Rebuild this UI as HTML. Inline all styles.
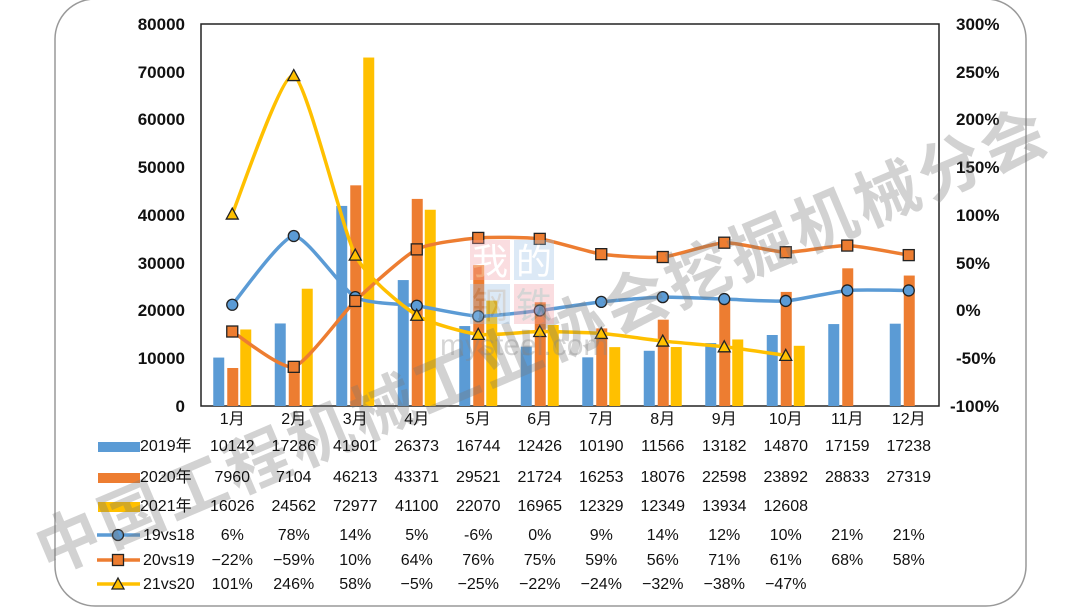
<!DOCTYPE html>
<html><head><meta charset="utf-8"><style>
body{margin:0;background:#fff;}
#w{position:relative;width:1080px;height:608px;overflow:hidden;background:#fff;}
.t{position:absolute;font-family:"Liberation Sans","Noto Sans CJK SC",sans-serif;font-size:16px;line-height:18px;height:18px;color:#111;white-space:nowrap;}
</style></head><body><div id="w">
<svg id="s" width="1080" height="608" style="position:absolute;left:0;top:0">
<rect x="55" y="-1" width="971" height="607" rx="40" fill="none" stroke="#999" stroke-width="1.5"/>
<rect x="201" y="24" width="738" height="382" fill="none" stroke="#222" stroke-width="1.5"/>
<g id="bars"></g><g id="lines"></g>
<g font-family="Liberation Sans, sans-serif" font-weight="bold" font-size="17" fill="#111">
<text x="185" y="30" text-anchor="end">80000</text>
<text x="185" y="78" text-anchor="end">70000</text>
<text x="185" y="125" text-anchor="end">60000</text>
<text x="185" y="173" text-anchor="end">50000</text>
<text x="185" y="221" text-anchor="end">40000</text>
<text x="185" y="269" text-anchor="end">30000</text>
<text x="185" y="316" text-anchor="end">20000</text>
<text x="185" y="364" text-anchor="end">10000</text>
<text x="185" y="412" text-anchor="end">0</text>
<text x="956" y="30">300%</text><text x="956" y="78">250%</text><text x="956" y="125">200%</text>
<text x="956" y="173">150%</text><text x="956" y="221">100%</text><text x="956" y="269">50%</text>
<text x="956" y="316">0%</text><text x="956" y="364">-50%</text><text x="950" y="412">-100%</text>
</g>
<g id="leg"></g>
<g opacity="0.32" fill="#777" font-family="Noto Sans CJK SC, sans-serif" font-weight="bold">
<text x="0" y="0" font-size="64" transform="translate(48,575) rotate(-23)" textLength="1090" lengthAdjust="spacing">中国工程机械工业协会挖掘机械分会</text>
</g>
<g opacity="0.35">
<rect x="470" y="240" width="40" height="40" fill="#f3a0a8"/><rect x="514" y="240" width="40" height="40" fill="#9ec3e6"/>
<rect x="470" y="284" width="40" height="40" fill="#9ec3e6"/><rect x="514" y="284" width="40" height="40" fill="#f3a0a8"/>
<text x="472" y="274" font-size="36" fill="#fff" font-family="Noto Sans CJK SC">我</text><text x="516" y="274" font-size="36" fill="#fff" font-family="Noto Sans CJK SC">的</text>
<text x="472" y="318" font-size="36" fill="#888" font-family="Noto Sans CJK SC">钢</text><text x="516" y="318" font-size="36" fill="#888" font-family="Noto Sans CJK SC">铁</text>
<text x="440" y="355" font-size="30" fill="#888" font-family="Liberation Sans">mysteel.com</text>
</g>
</svg>
<div class="t" style="left:140px;top:438px">2019年</div>
<div class="t" style="left:140px;top:469px">2020年</div>
<div class="t" style="left:140px;top:498px">2021年</div>
<div class="t" style="left:143px;top:527px">19vs18</div>
<div class="t" style="left:143px;top:552px">20vs19</div>
<div class="t" style="left:143px;top:576px">21vs20</div>
<div id="cols"></div>
</div>
<script>
const c=i=>232.25+61.5*i;
const d19=[10142,17286,41901,26373,16744,12426,10190,11566,13182,14870,17159,17238];
const d20=[7960,7104,46213,43371,29521,21724,16253,18076,22598,23892,28833,27319];
const d21=[16026,24562,72977,41100,22070,16965,12329,12349,13934,12608];
const p19=[6,78,14,5,-6,0,9,14,12,10,21,21];
const p20=[-22,-59,10,64,76,75,59,56,71,61,68,58];
const p21=[101,246,58,-5,-25,-22,-24,-32,-38,-47];
const B='#5b9bd5',O='#ed7d31',Y='#ffc000';
const Yv=v=>406-v*382/80000, Pv=v=>310.5-v*0.955;
let h='';
[[d19,B,-19],[d20,O,-5],[d21,Y,8]].forEach(([d,col,o])=>d.forEach((v,i)=>{const y=Yv(v);h+=`<rect x="${c(i)+o}" y="${y}" width="11" height="${406-y}" fill="${col}"/>`;}));
document.getElementById('bars').innerHTML=h;
function path(pts){let s=`M${pts[0][0]},${pts[0][1]}`;const t=0.1;for(let i=0;i<pts.length-1;i++){const p0=pts[i-1]||pts[i],p1=pts[i],p2=pts[i+1],p3=pts[i+2]||p2;s+=` C${p1[0]+(p2[0]-p0[0])*t},${p1[1]+(p2[1]-p0[1])*t} ${p2[0]-(p3[0]-p1[0])*t},${p2[1]-(p3[1]-p1[1])*t} ${p2[0]},${p2[1]}`;}return s;}
function mk(t,x,y,col){if(t=='o')return `<circle cx="${x}" cy="${y}" r="5.5" fill="${col}" stroke="#222" stroke-width="1.3"/>`;if(t=='s')return `<rect x="${x-5.5}" y="${y-5.5}" width="11" height="11" fill="${col}" stroke="#222" stroke-width="1.3"/>`;return `<polygon points="${x},${y-6} ${x+6},${y+5} ${x-6},${y+5}" fill="${col}" stroke="#222" stroke-width="1.3"/>`;}
let l='';
[[p19,B,'o'],[p20,O,'s'],[p21,Y,'t']].forEach(([d,col,t])=>{const pts=d.map((v,i)=>[c(i),Pv(v)]);l+=`<path d="${path(pts)}" fill="none" stroke="${col}" stroke-width="3.5"/>`;pts.forEach(p=>l+=mk(t,p[0],p[1],col));});
document.getElementById('lines').innerHTML=l;
let g='';
[[447,B,''],[478,O,''],[507,Y,''],[536,B,'o'],[561,O,'s'],[585,Y,'t']].forEach(([y,col,t],k)=>{if(k<3)g+=`<rect x="98" y="${y-5}" width="42" height="10" fill="${col}"/>`;else{g+=`<line x1="97" y1="${y-1}" x2="140" y2="${y-1}" stroke="${col}" stroke-width="3.5"/>`+mk(t,118,y-1,col);}});
document.getElementById('leg').innerHTML=g;
const rows=[[411,['1月','2月','3月','4月','5月','6月','7月','8月','9月','10月','11月','12月']],
[438,d19],[469,d20],[498,d21],[527,p19.map(v=>v+'%')],[552,p20.map(v=>(v<0?'−'+(-v):v)+'%')],[576,p21.map(v=>(v<0?'−'+(-v):v)+'%')]];
let q='';rows.forEach(([y,a])=>a.forEach((v,i)=>{q+=`<div class="t" style="left:${c(i)-40}px;width:80px;text-align:center;top:${y}px">${v}</div>`;}));
document.getElementById('cols').innerHTML=q;
</script>
</body></html>
